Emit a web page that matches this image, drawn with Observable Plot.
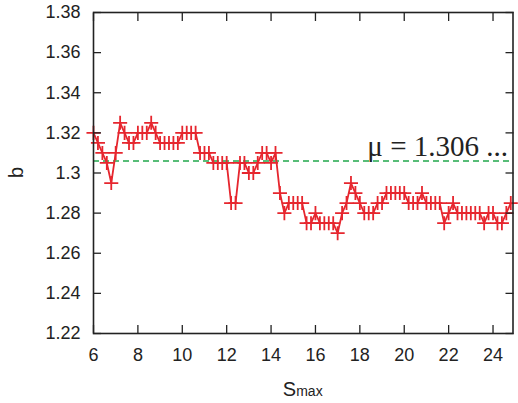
<!DOCTYPE html>
<html><head><meta charset="utf-8">
<script src="https://cdn.jsdelivr.net/npm/d3@7"></script>
<script src="https://cdn.jsdelivr.net/npm/@observablehq/plot@0.6"></script>
<style>body{margin:0;background:#fff}</style>
</head><body><div id="chart"></div>
<script>
const smax = [6.0,6.2,6.4,6.6,6.8,7.0,7.2,7.4,7.6,7.8,8.0,8.2,8.4,8.6,8.8,9.0,9.2,9.4,9.6,9.8,
  10.0,10.2,10.4,10.6,10.8,11.0,11.2,11.4,11.6,11.8,12.0,12.2,12.4,12.6,12.8,13.0,13.2,13.4,13.6,13.8,
  14.0,14.2,14.4,14.6,14.8,15.0,15.2,15.4,15.6,15.8,16.0,16.2,16.4,16.6,16.8,17.0,17.2,17.4,17.6,17.8,
  18.0,18.2,18.4,18.6,18.8,19.0,19.2,19.4,19.6,19.8,20.0,20.2,20.4,20.6,20.8,21.0,21.2,21.4,21.6,21.8,
  22.0,22.2,22.4,22.6,22.8,23.0,23.2,23.4,23.6,23.8,24.0,24.2,24.4,24.6,24.8];
const bValues = [1.32,1.315,1.31,1.305,1.295,1.31,1.325,1.32,1.315,1.315,1.32,1.32,1.32,1.325,1.32,1.315,1.315,1.315,1.315,1.315,
  1.32,1.32,1.32,1.32,1.31,1.31,1.31,1.305,1.305,1.305,1.305,1.285,1.285,1.305,1.305,1.30,1.30,1.305,1.31,1.31,
  1.305,1.31,1.29,1.28,1.285,1.285,1.285,1.285,1.275,1.275,1.28,1.275,1.275,1.275,1.275,1.27,1.28,1.285,1.295,1.29,
  1.285,1.28,1.28,1.28,1.285,1.285,1.29,1.29,1.29,1.29,1.29,1.285,1.285,1.285,1.29,1.285,1.285,1.285,1.285,1.275,
  1.28,1.285,1.28,1.28,1.28,1.28,1.28,1.28,1.275,1.28,1.28,1.275,1.275,1.28,1.285];
const xTicks = [6,8,10,12,14,16,18,20,22,24];
const yTicks = [1.22,1.24,1.26,1.28,1.30,1.32,1.34,1.36,1.38];
const mu = 1.306;
const muLabel = "μ = 1.306 ...";
const xLabelMain = "S", xLabelSub = "max";
const yLabel = "b";

const data = smax.map((s, i) => ({s, b: bValues[i]}));
const red = "#e6262e", green = "#22a84c";
const fmt = d => String(+d.toFixed(2));

const chart = Plot.plot({
  width: 518, height: 403,
  marginLeft: 93, marginRight: 5.5, marginTop: 12, marginBottom: 70,
  style: {fontFamily: "'Liberation Sans', Arial, sans-serif", fontSize: "18px", background: "#fff", color: "#222"},
  x: {domain: [6, 24.9]},
  y: {domain: [1.22, 1.38]},
  marks: [
    Plot.ruleY([mu], {stroke: green, strokeWidth: 1.6, strokeDasharray: "6,4"}),
    Plot.line(data, {x: "s", y: "b", stroke: red, strokeWidth: 1.8}),
    Plot.dot(data, {x: "s", y: "b", symbol: "plus", r: 4.6, stroke: red, strokeWidth: 1.8}),
    Plot.text([muLabel], {text: d => d, y: () => mu, frameAnchor: "right", textAnchor: "end", lineAnchor: "bottom",
      dx: -5, dy: -5, fontFamily: "'Liberation Serif', 'Times New Roman', serif", fontSize: 29, fill: "#222"}),
    Plot.axisX(xTicks, {anchor: "bottom", tickSize: 0, tickPadding: 15, label: null}),
    Plot.axisX(xTicks, {anchor: "bottom", tickSize: -8, text: null, label: null, stroke: "#222", strokeWidth: 1.3}),
    Plot.axisX(xTicks, {anchor: "top", tickSize: -8, text: null, label: null, stroke: "#222", strokeWidth: 1.3}),
    Plot.axisY(yTicks, {anchor: "left", tickSize: 0, tickPadding: 13, tickFormat: fmt, label: null}),
    Plot.axisY(yTicks, {anchor: "left", tickSize: -8, text: null, label: null, stroke: "#222", strokeWidth: 1.3}),
    Plot.axisY(yTicks, {anchor: "right", tickSize: -8, text: null, label: null, stroke: "#222", strokeWidth: 1.3}),
    Plot.frame({stroke: "#222", strokeWidth: 1.6})
  ]
});
document.getElementById("chart").appendChild(chart);

const svg = d3.select(chart);
const xr = chart.scale("x").range;
const yr = chart.scale("y").range;
const xl = svg.append("text")
  .attr("x", (xr[0] + xr[1]) / 2).attr("y", 396)
  .attr("text-anchor", "middle")
  .attr("font-family", "'Liberation Sans', Arial, sans-serif")
  .attr("fill", "#222");
xl.append("tspan").attr("font-size", 20).text(xLabelMain);
xl.append("tspan").attr("font-size", 14).text(xLabelSub);
svg.append("text")
  .attr("transform", `translate(23,${(yr[0] + yr[1]) / 2}) rotate(-90)`)
  .attr("text-anchor", "middle")
  .attr("font-family", "'Liberation Sans', Arial, sans-serif")
  .attr("font-size", 20).attr("fill", "#222")
  .text(yLabel);
</script>
</body></html>
